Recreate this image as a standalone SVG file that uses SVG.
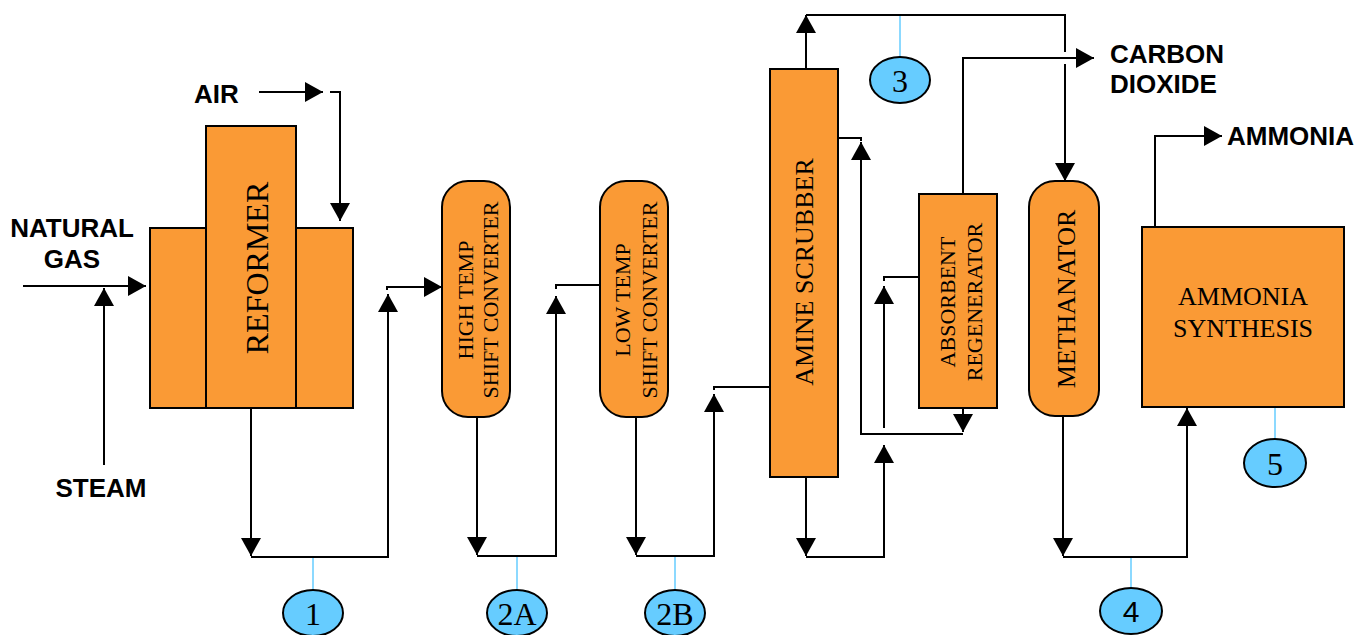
<svg xmlns="http://www.w3.org/2000/svg" width="1359" height="635" viewBox="0 0 1359 635">
<style>
.unit{fill:#FA9A35;stroke:#000;stroke-width:2}
.ser{font-family:"Liberation Serif","Times New Roman",serif;fill:#000}
.lbl{font-family:"Liberation Sans",Arial,sans-serif;font-weight:bold;font-size:26px;fill:#000}
.conn path{fill:none;stroke:#000;stroke-width:2}
.tag{fill:#66CCFF;stroke:#000;stroke-width:2}
.lead{stroke:#66CCFF;stroke-width:1.5;fill:none}
</style>
<defs>
<marker id="ah" markerUnits="userSpaceOnUse" markerWidth="20" markerHeight="20" refX="18" refY="10" orient="auto">
<path d="M0,0 L18,10 L0,20 z" fill="#000"/>
</marker>
</defs>
<rect width="1359" height="635" fill="#fff"/>

<g id="connectors" class="conn">
<path d="M259,92 H323" marker-end="url(#ah)"/>
<path d="M330,92 H340 V221" marker-end="url(#ah)"/>
<path d="M23,286 H146" marker-end="url(#ah)"/>
<path d="M104,465 V288" marker-end="url(#ah)"/>
<path d="M251,408 V556" marker-end="url(#ah)"/>
<path d="M251,557 H388 V294" marker-end="url(#ah)"/>
<path d="M387,290 V287 H442" marker-end="url(#ah)"/>
<path d="M477,417 V555" marker-end="url(#ah)"/>
<path d="M477,556 H556 V296" marker-end="url(#ah)"/>
<path d="M600,285 H556 V289"/>
<path d="M636,417 V555" marker-end="url(#ah)"/>
<path d="M636,556 H714 V394" marker-end="url(#ah)"/>
<path d="M770,387 H714 V390"/>
<path d="M806,69 V15" marker-end="url(#ah)"/>
<path d="M806,15 H1065 V52"/>
<path d="M1065,64 V181" marker-end="url(#ah)"/>
<path d="M963,194 V58 H1094" marker-end="url(#ah)"/>
<path d="M838,138 H861 V141"/>
<path d="M963,408 V432" marker-end="url(#ah)"/>
<path d="M963,434 H861 V142" marker-end="url(#ah)"/>
<path d="M806,477 V556" marker-end="url(#ah)"/>
<path d="M806,557 H884 V445" marker-end="url(#ah)"/>
<path d="M884,428 V286" marker-end="url(#ah)"/>
<path d="M919,277 H884 V281"/>
<path d="M1063,416 V556" marker-end="url(#ah)"/>
<path d="M1063,557 H1187 V408" marker-end="url(#ah)"/>
<path d="M1155,227 V136 H1222" marker-end="url(#ah)"/>
</g>

<g id="leaders">
<path class="lead" d="M313,558 V590"/>
<path class="lead" d="M517,557 V590"/>
<path class="lead" d="M675,557 V590"/>
<path class="lead" d="M900,16 V57"/>
<path class="lead" d="M1131,558 V588"/>
<path class="lead" d="M1275,408 V439"/>
</g>

<g id="reformer">
<rect class="unit" x="150" y="228" width="56" height="180"/>
<rect class="unit" x="296" y="228" width="57" height="180"/>
<rect class="unit" x="206" y="126" width="90" height="282"/>
<text class="ser" font-size="32" text-anchor="middle" transform="translate(268,268) rotate(-90)">REFORMER</text>
</g>

<g id="htsc">
<rect class="unit" x="442" y="181" width="68" height="236" rx="26" ry="26"/>
<text class="ser" font-size="22" text-anchor="middle" transform="translate(473,300) rotate(-90)">HIGH TEMP</text>
<text class="ser" font-size="22" text-anchor="middle" transform="translate(498,300) rotate(-90)">SHIFT CONVERTER</text>
</g>

<g id="ltsc">
<rect class="unit" x="600" y="181" width="68" height="236" rx="26" ry="26"/>
<text class="ser" font-size="22" text-anchor="middle" transform="translate(630,300) rotate(-90)">LOW TEMP</text>
<text class="ser" font-size="22" text-anchor="middle" transform="translate(657,300) rotate(-90)">SHIFT CONVERTER</text>
</g>

<g id="amine-scrubber">
<rect class="unit" x="770" y="69" width="68" height="408"/>
<text class="ser" font-size="26" text-anchor="middle" transform="translate(813,272) rotate(-90)">AMINE SCRUBBER</text>
</g>

<g id="absorbent-regenerator">
<rect class="unit" x="919" y="194" width="78" height="214"/>
<text class="ser" font-size="22" text-anchor="middle" transform="translate(955,302) rotate(-90)">ABSORBENT</text>
<text class="ser" font-size="22" text-anchor="middle" transform="translate(982,302) rotate(-90)">REGENERATOR</text>
</g>

<g id="methanator">
<rect class="unit" x="1029" y="181" width="70" height="235" rx="26" ry="26"/>
<text class="ser" font-size="26" text-anchor="middle" transform="translate(1075,299) rotate(-90)">METHANATOR</text>
</g>

<g id="ammonia-synthesis">
<rect class="unit" x="1142" y="227" width="202" height="180"/>
<text class="ser" font-size="26" text-anchor="middle" x="1243" y="305">AMMONIA</text>
<text class="ser" font-size="26" text-anchor="middle" x="1243" y="337">SYNTHESIS</text>
</g>

<g id="labels">
<text class="lbl" x="194" y="103">AIR</text>
<text class="lbl" x="72" y="237" text-anchor="middle">NATURAL</text>
<text class="lbl" x="72" y="268" text-anchor="middle">GAS</text>
<text class="lbl" x="101" y="497" text-anchor="middle">STEAM</text>
<text class="lbl" x="1110" y="63">CARBON</text>
<text class="lbl" x="1110" y="93">DIOXIDE</text>
<text class="lbl" x="1227" y="145">AMMONIA</text>
</g>

<g id="tag-1"><ellipse class="tag" cx="313" cy="613" rx="30" ry="23"/><text class="ser" font-size="32" text-anchor="middle" x="313" y="625">1</text></g>
<g id="tag-2A"><ellipse class="tag" cx="517" cy="613" rx="30" ry="23"/><text class="ser" font-size="32" text-anchor="middle" x="517" y="625">2A</text></g>
<g id="tag-2B"><ellipse class="tag" cx="675" cy="613" rx="30" ry="23"/><text class="ser" font-size="32" text-anchor="middle" x="675" y="625">2B</text></g>
<g id="tag-3"><ellipse class="tag" cx="900" cy="80" rx="30" ry="23"/><text class="ser" font-size="32" text-anchor="middle" x="900" y="92">3</text></g>
<g id="tag-4"><ellipse class="tag" cx="1131" cy="611" rx="31" ry="23"/><text font-family="'Liberation Sans',Arial,sans-serif" font-size="30" text-anchor="middle" x="1131" y="622">4</text></g>
<g id="tag-5"><ellipse class="tag" cx="1275" cy="463" rx="31" ry="24"/><text class="ser" font-size="32" text-anchor="middle" x="1275" y="475">5</text></g>
</svg>
